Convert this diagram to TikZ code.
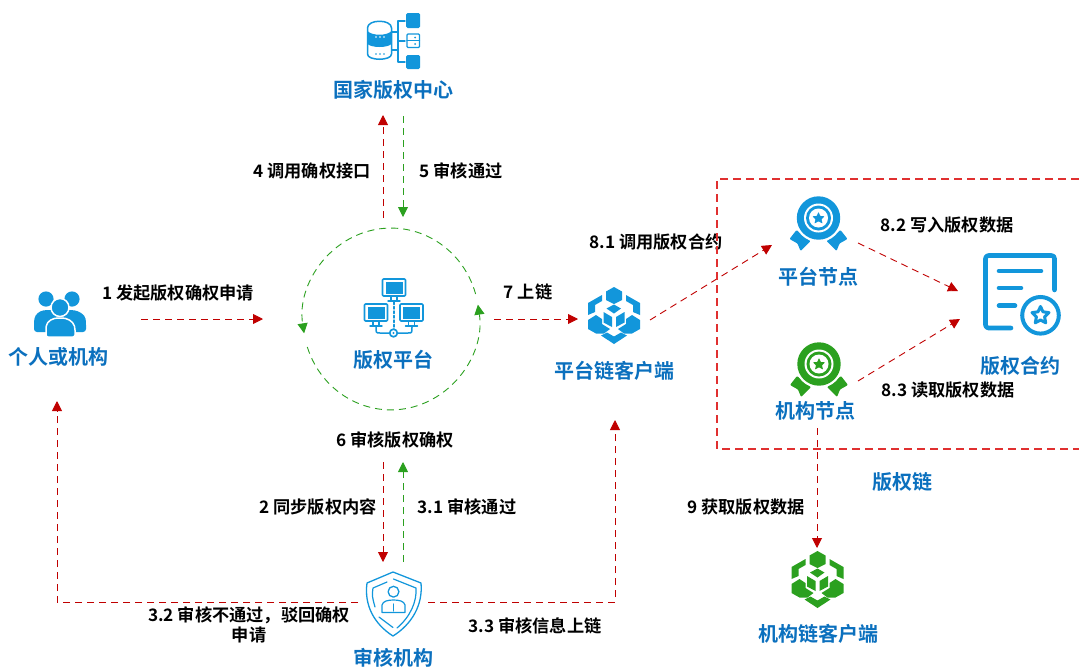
\documentclass[tikz,border=0pt]{standalone}
\usepackage{fontspec}
\setmainfont{Noto Sans CJK SC}[BoldFont={* Bold}]
\usetikzlibrary{arrows.meta,calc}
\definecolor{iconblue}{HTML}{1296DB}
\definecolor{textblue}{HTML}{0B70BE}
\definecolor{arrowred}{HTML}{C00000}
\definecolor{arrowgreen}{HTML}{2BA01F}
\definecolor{framered}{HTML}{E03030}
\tikzset{
  x=1pt,y=-1pt,
  title/.style={font=\bfseries\fontsize{20}{22}\selectfont,text=textblue,inner sep=0pt},
  lab/.style={font=\bfseries\fontsize{17.2}{20}\selectfont,text=black,inner sep=0pt,align=center},
  redarrow/.style={draw=arrowred,line width=.9pt,dash pattern=on 7pt off 5pt,-{Triangle[length=10pt,width=10pt,fill=arrowred]}},
  greenarrow/.style={draw=arrowgreen,line width=.9pt,dash pattern=on 7pt off 5pt,-{Triangle[length=10pt,width=10pt,fill=arrowgreen]}},
  chainbox/.style={color=framered,line width=1.3pt,dash pattern=on 8pt off 5pt},
  ib/.style={fill=iconblue,draw=none},
  il/.style={draw=iconblue,fill=none,line cap=round,line join=round},
}
\newcommand{\cubeicon}[3]{%
\begin{scope}[shift={(#2,#3)}]
 \fill[#1] (0,-28)--(8,-23.5)--(8,-15)--(0,-11)--(-8,-15)--(-8,-23.5)--cycle;
 \fill[#1] (0,-10.5)--(7,-6.5)--(0,-1.5)--(-7.5,-6.5)--cycle;
 \fill[#1] (-26,-12)--(-12,-20)--(-12,-14)--(-19,-10)--(-19,-3)--(-26,0)--cycle;
 \fill[#1] (26,-12)--(12,-20)--(12,-14)--(19,-10)--(19,-3)--(26,0)--cycle;
 \fill[#1] (-10.5,-3)--(-2,2)--(-2,12)--(-10.5,7.5)--cycle;
 \fill[#1] (10.5,-3)--(2,2)--(2,12)--(10.5,7.5)--cycle;
 \fill[#1] (-26,5)--(-18,0)--(-12,4)--(-12,9)--(-4,14)--(-10,18.5)--(-18,18.5)--(-26,14)--cycle;
 \fill[#1] (26,5)--(18,0)--(12,4)--(12,9)--(4,14)--(10,18.5)--(18,18.5)--(26,14)--cycle;
 \fill[#1] (0,29)--(-13,20.5)--(-7,17.5)--(0,21.5)--(7,17.5)--(13,20.5)--cycle;
\end{scope}}
\newcommand{\medalicon}[3]{%
\begin{scope}[shift={(#2,#3)}]
 \fill[#1,rounded corners=1pt] (-22,12)--(-29,21)--(-21,25.5)--(-18,33)--(-8,23)--cycle;
 \fill[#1,rounded corners=1pt] (22,12)--(29,21)--(21,25.5)--(18,33)--(8,23)--cycle;
 \fill[white] (0,0) circle (24);
 \fill[#1] (0,0) circle (21.7);
 \fill[white] (0,0) circle (14.5);
 \fill[#1] (0,0) circle (12.5);
 \fill[white] (0,0) circle (9.5);
 \fill[#1,rounded corners=.5pt] (0,-6)--(1.8,-2)--(6,-1.7)--(3,1.3)--(4,5.5)--(0,3.3)--(-4,5.5)--(-3,1.3)--(-6,-1.7)--(-1.8,-2)--cycle;
\end{scope}}
\newcommand{\monitor}[2]{%
\begin{scope}[shift={(#1,#2)}]
 \draw[il,line width=1.6pt,rounded corners=1pt] (-11.5,-9)rectangle(11.5,8);
 \fill[ib] (-8.5,-6.5)rectangle(8.5,5.5);
 \draw[il,line width=1.4pt] (-3,8)--(-3,12.5) (3,8)--(3,12.5) (-6,13)--(6,13);
\end{scope}}
\begin{document}
\begin{tikzpicture}
\useasboundingbox (0,0) rectangle (1079,667);

% ---------- person icon
\fill[iconblue] (46,299) circle (7.6);
\fill[iconblue] (72,299) circle (7.6);
\fill[iconblue,rounded corners=3pt] (34,332)--(34,322)..controls (35,314) and (40,311) .. (46,310)--(72,310)..controls (78,311) and (85,314) .. (86,322)--(86,332)--cycle;
\fill[iconblue,draw=white,line width=1.5pt] (60,307.5) circle (9);
\fill[iconblue,draw=white,line width=1.5pt,rounded corners=2pt] (46,337)--(46,328)..controls (47,321) and (53,318) .. (60,318)..controls (67,318) and (73,321) .. (75,328)--(75,337)--cycle;

% ---------- database icon
\draw[il,line width=1.5pt] (367.5,28)..controls (367.5,19) and (391.5,19) .. (391.5,28)--(391.5,54)..controls (391.5,61) and (367.5,61) .. (367.5,54)--cycle;
\fill[ib] (367.5,31)..controls (372,36) and (387,36) .. (391.5,31)--(391.5,44)..controls (387,48) and (372,48) .. (367.5,44)--cycle;
\fill[white] (376,37)circle(.8) (380,37)circle(.8) (384,37)circle(.8);
\fill[ib] (376,54)circle(.9) (380,54)circle(.9) (384,54)circle(.9);
\draw[il,line width=1.4pt] (392,32)--(398,32) (392,50)--(398,50) (405,21)--(398,21)--(398,62)--(405,62) (398,41)--(405,41);
\fill[ib,rounded corners=1.5pt] (406,13)rectangle(420,28);
\fill[ib,rounded corners=1.5pt] (406,55)rectangle(420,69);
\draw[il,line width=1.4pt,rounded corners=1pt] (407,34)rectangle(419.5,47.5);
\draw[il,line width=1.2pt] (407,40.7)--(419.5,40.7);
\fill[ib] (415,37.5)circle(1) (415,44)circle(1);

% ---------- network icon
\monitor{394}{288}
\monitor{376}{313}
\monitor{411.5}{313}
\draw[il,line width=1.4pt,dash pattern=on 2.5pt off 2pt] (394,302)--(394,329);
\draw[il,line width=1.5pt] (376,327)..controls (376,333) .. (380,333)--(390,333) (398,333)--(408,333)..controls (412,333) .. (412,327);
\draw[il,line width=1.7pt] (393.5,333) circle (3.8);
\fill[ib] (393.5,333) circle (1.2);

% ---------- titles
\node[title] (person) at (59,357) {个人或机构};
\node[title] (center) at (393,90) {国家版权中心};
\node[title] (platform) at (393,360) {版权平台};
\node[title] (pclient) at (614,371) {平台链客户端};
\node[title] (pnode) at (818,277) {平台节点};
\node[title] (onode) at (815,411) {机构节点};
\node[title] (contract) at (1020,366) {版权合约};
\node[title] (review) at (393,658) {审核机构};
\node[title] (oclient) at (818,634) {机构链客户端};
\node[title] (chain) at (902,482) {版权链};

% ---------- labels
\node[lab] (l1) at (178,293) {1 发起版权确权申请};
\node[lab] (l4) at (312,171) {4 调用确权接口};
\node[lab] (l5) at (461,171) {5 审核通过};
\node[lab] (l7) at (528,292) {7 上链};
\node[lab] (l81) at (656,242) {8.1 调用版权合约};
\node[lab] (l82) at (947,225) {8.2 写入版权数据};
\node[lab] (l83) at (948,390) {8.3 读取版权数据};
\node[lab] (l6) at (395,440) {6 审核版权确权};
\node[lab] (l2) at (318,507) {2 同步版权内容};
\node[lab] (l31) at (467,507) {3.1 审核通过};
\node[lab] (l32) at (249,625) {3.2 审核不通过，驳回确权\\申请};
\node[lab] (l33) at (535,626) {3.3 审核信息上链};
\node[lab] (l9) at (746,507) {9 获取版权数据};

% ---------- icons
\cubeicon{iconblue}{614}{315}
\cubeicon{arrowgreen}{817.5}{579}
\medalicon{iconblue}{818.5}{218}
\medalicon{arrowgreen}{819}{364}

% contract icon
\draw[il,line width=4.6pt,rounded corners=3pt] (1011,328)--(985.5,328)--(985.5,255.5)--(1054.5,255.5)--(1054.5,290);
\draw[il,line width=4.6pt] (999,271)--(1041,271) (999,288)--(1021,288) (999,305.7)--(1015,305.7);
\draw[draw=iconblue,line width=4pt,fill=white] (1040.5,315.3) circle (18.3);
\draw[il,line width=3pt] (1040.5,306.5)--(1043,311.8)--(1049,312.6)--(1044.6,316.8)--(1045.7,322.8)--(1040.5,320)--(1035.3,322.8)--(1036.4,316.8)--(1032,312.6)--(1038,311.8)--cycle;

% shield icon
\draw[il,line width=1.3pt] (393,572)--(421,583)..controls (423,605) and (412,624) .. (393,636)..controls (374,624) and (364,605) .. (367,583)--cycle;
\draw[il,line width=1.2pt] (373,588)--(387,582) (373,588)..controls (372,596) .. (375,607) (393.5,579)--(416,588)..controls (417,602) and (410,617) .. (397,628) (379,617)--(393,627.5);
\draw[il,line width=1.3pt] (393.5,591.7) circle (5.4);
\draw[il,line width=1.2pt] (382,612.5)--(382,605)..controls (383,601) and (388,600) .. (393.5,600)..controls (399,600) and (404,601) .. (405,605)--(405,612.5)--cycle;
\draw[il,line width=1.2pt] (393.5,604)--(393.5,611);

% ---------- free ends of connectors
\foreach \n/\x/\y in {a1s/141/319,a1e/263/319,a4s/383/218,a4e/383/115,a5s/403/116,a5e/403/217,
  a7s/494/319,a7e/578/319,a81s/650/320,a81e/772/245,a82s/858/243,a82e/958/291,a83s/858/381,a83e/960/319,
  a9s/817/428,a9e/817/548,a2s/383/462,a2e/383/562,a31s/403/562,a31e/403/462,
  a32s/358/602,a32m/57/602,a32e/57/401,a33s/428/602,a33m/615/602,a33e/615/420}
  {\coordinate (\n) at (\x,\y);}

% ---------- connectors
\draw[redarrow] (a1s)--(a1e);
\draw[redarrow] (a4s)--(a4e);
\draw[greenarrow] (a5s)--(a5e);
\draw[redarrow] (a7s)--(a7e);
\draw[redarrow] (a81s)--(a81e);
\draw[redarrow] (a82s)--(a82e);
\draw[redarrow] (a83s)--(a83e);
\draw[redarrow] (a9s)--(a9e);
\draw[redarrow] (a2s)--(a2e);
\draw[greenarrow] (a31s)--(a31e);
\draw[redarrow] (a32s)--(a32m)--(a32e);
\draw[redarrow] (a33s)--(a33m)--(a33e);

% ---------- dashed chain frame
\coordinate (f1) at (1079,179);\coordinate (f2) at (717,179);
\coordinate (f3) at (717,449);\coordinate (f4) at (1079,449);
\draw[chainbox] (f1)--(f2)--(f3)--(f4);

% ---------- platform circle
\coordinate (cc) at (391,319);
\draw[greenarrow] ($(cc)+(84.6,-25)$) arc[start angle=-16,end angle=-189,x radius=88,y radius=91];
\draw[greenarrow] ($(cc)+(-83.7,28)$) arc[start angle=162,end angle=-9,x radius=88,y radius=91];
\end{tikzpicture}
\end{document}
